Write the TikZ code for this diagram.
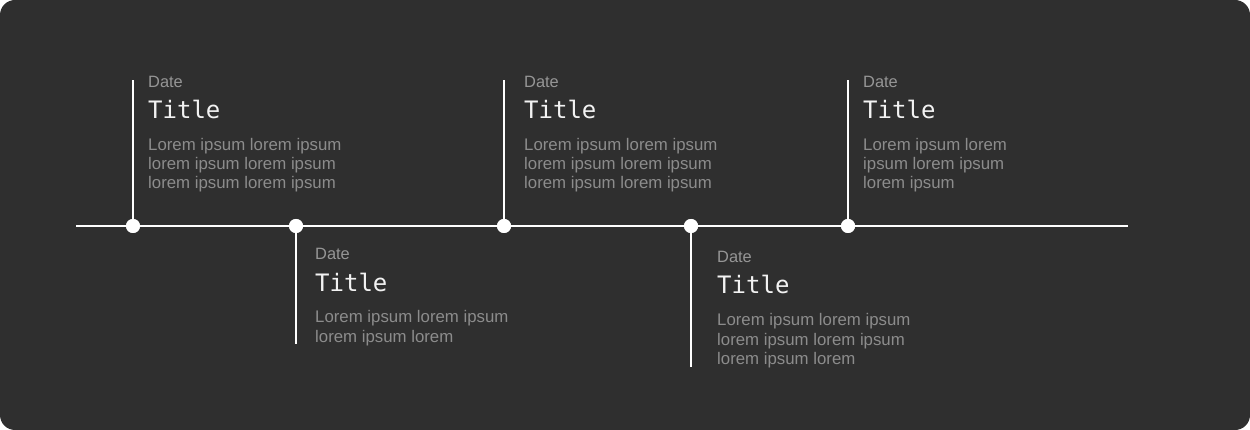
\documentclass[tikz,border=0pt]{standalone}
\usepackage{fontspec}
\setmainfont{Liberation Sans}
\newfontfamily\titlefont{DejaVu Sans Mono}
\definecolor{bg}{HTML}{2F2F2F}
\definecolor{dategray}{HTML}{969696}
\definecolor{bodygray}{HTML}{8C8C8C}
\definecolor{titlewhite}{HTML}{F2F2F2}
\begin{document}
\begin{tikzpicture}[x=1pt,y=-1pt,
  dot/.style={circle, fill=white, inner sep=0pt, minimum size=14pt},
  conn/.style={draw=white, line width=2pt},
  datetxt/.style={anchor=base west, inner sep=0pt, text=dategray, font=\fontsize{16.4}{18}\selectfont},
  titletxt/.style={anchor=base west, inner sep=0pt, text=titlewhite, font=\titlefont\fontsize{24}{28}\selectfont},
  bodytxt/.style={anchor=base west, inner sep=0pt, text=bodygray, font=\fontsize{16.8}{19}\selectfont}]
\useasboundingbox (0,0) rectangle (1250,430);
\fill[bg, rounded corners=15pt] (0,0) rectangle (1250,430);

% axis
\coordinate (L) at (76,226);
\coordinate (R) at (1128,226);
\node[dot] (d1) at (133,226) {};
\node[dot] (d2) at (296,226) {};
\node[dot] (d3) at (504,226) {};
\node[dot] (d4) at (691,226) {};
\node[dot] (d5) at (848,226) {};
\coordinate (t1) at (133,80);
\coordinate (t2) at (296,344);
\coordinate (t3) at (504,80);
\coordinate (t4) at (691,367);
\coordinate (t5) at (848,80);

\draw[conn] (L) -- (R);
\draw[conn] (d1.center) -- (t1);
\draw[conn] (d2.center) -- (t2);
\draw[conn] (d3.center) -- (t3);
\draw[conn] (d4.center) -- (t4);
\draw[conn] (d5.center) -- (t5);
\node[dot] at (d1) {};
\node[dot] at (d2) {};
\node[dot] at (d3) {};
\node[dot] at (d4) {};
\node[dot] at (d5) {};

% item 1
\node[datetxt] (a1) at (148,88) {Date};
\node[titletxt] (b1) at (148,119) {Title};
\node[bodytxt] (c1a) at (148,151) {Lorem ipsum lorem ipsum};
\node[bodytxt] (c1b) at (148,170) {lorem ipsum lorem ipsum};
\node[bodytxt] (c1c) at (148,189) {lorem ipsum lorem ipsum};
% item 2
\node[datetxt] (a2) at (315,260) {Date};
\node[titletxt] (b2) at (315,291) {Title};
\node[bodytxt] (c2a) at (315,323) {Lorem ipsum lorem ipsum};
\node[bodytxt] (c2b) at (315,342) {lorem ipsum lorem};
% item 3
\node[datetxt] (a3) at (524,88) {Date};
\node[titletxt] (b3) at (524,119) {Title};
\node[bodytxt] (c3a) at (524,151) {Lorem ipsum lorem ipsum};
\node[bodytxt] (c3b) at (524,170) {lorem ipsum lorem ipsum};
\node[bodytxt] (c3c) at (524,189) {lorem ipsum lorem ipsum};
% item 4
\node[datetxt] (a4) at (717,263) {Date};
\node[titletxt] (b4) at (717,294) {Title};
\node[bodytxt] (c4a) at (717,326) {Lorem ipsum lorem ipsum};
\node[bodytxt] (c4b) at (717,345) {lorem ipsum lorem ipsum};
\node[bodytxt] (c4c) at (717,364) {lorem ipsum lorem};
% item 5
\node[datetxt] (a5) at (863,88) {Date};
\node[titletxt] (b5) at (863,119) {Title};
\node[bodytxt] (c5a) at (863,151) {Lorem ipsum lorem};
\node[bodytxt] (c5b) at (863,170) {ipsum lorem ipsum};
\node[bodytxt] (c5c) at (863,189) {lorem ipsum};
\end{tikzpicture}
\end{document}
